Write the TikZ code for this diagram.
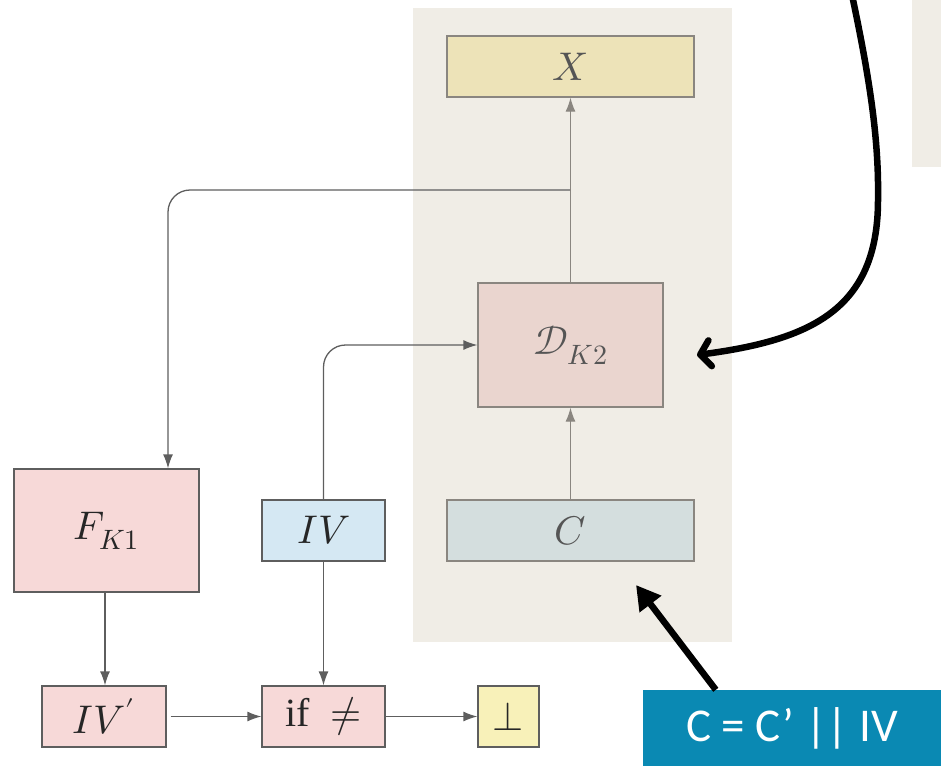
\documentclass[tikz,border=0pt]{standalone}
\usepackage{fontspec}
\usepackage{unicode-math}
\setmainfont{Liberation Serif}
\newfontfamily\carl{Carlito}
\usetikzlibrary{arrows.meta,calc}
\definecolor{panel}{HTML}{F0EDE6}
\definecolor{xfill}{HTML}{EDE3B8}
\definecolor{dfill}{HTML}{EAD5CF}
\definecolor{cfill}{HTML}{D4DEDE}
\definecolor{pinkfill}{HTML}{F7D9D8}
\definecolor{ivfill}{HTML}{D5E8F3}
\definecolor{botfill}{HTML}{F8F1B9}
\definecolor{labelblue}{HTML}{0A89B3}
\definecolor{lgray}{HTML}{8A8680}
\definecolor{dgray}{HTML}{5E5E5E}
\definecolor{gtext}{HTML}{555555}
\begin{document}
\begin{tikzpicture}[x=1pt,y=-1pt,
  box/.style={draw=dgray,line width=1.3pt,inner sep=0pt,text=black!85,font=\fontsize{40}{44}\selectfont},
  rbox/.style={draw=lgray,line width=1.3pt,inner sep=0pt,text=gtext,font=\fontsize{40}{44}\selectfont},
  conn/.style={draw=dgray,line width=1.3pt,-{Latex[length=14pt,width=10pt]}},
  rconn/.style={draw=lgray,line width=1.3pt,-{Latex[length=14pt,width=10pt]}},
  big/.style={draw=black,line width=6.5pt,-{Triangle[length=24pt,width=26pt]}},
  bigcurve/.style={draw=black,line width=6.5pt,line cap=round,-{Straight Barb[length=10pt,width=26pt,round]}}]
\useasboundingbox (0,0) rectangle (941,766);
\fill[panel] (413,8) rectangle (732,642);
\fill[panel] (912,0) rectangle (941,167);
\node[rbox,fill=xfill,minimum width=247pt,minimum height=61pt] (X) at (570.5,66.5) {$X$};
\node[rbox,fill=dfill,minimum width=185pt,minimum height=124pt] (D) at (570.5,345) {$\mathcal{D}_{K2}$};
\node[rbox,fill=cfill,minimum width=247pt,minimum height=61pt] (C) at (570.5,530.5) {$C$};
\node[box,fill=pinkfill,minimum width=185pt,minimum height=123pt] (F) at (106.5,530.5) {$F_{K1}$};
\node[box,fill=ivfill,minimum width=123pt,minimum height=61pt] (IV) at (323.5,530.5) {$IV$};
\node[box,fill=pinkfill,minimum width=124pt,minimum height=61pt] (IVp) at (104,716.5) {$IV'$};
\node[box,fill=pinkfill,minimum width=123pt,minimum height=61pt] (if) at (323.5,716.5) {if\enspace$\neq$};
\node[box,fill=botfill,minimum width=61pt,minimum height=61pt] (bot) at (508.5,716.5) {$\perp$};
\node[fill=labelblue,minimum width=298pt,minimum height=76pt,inner sep=0pt,text=white,font=\carl\fontsize{47}{50}\selectfont] (lab) at (792,728) {C = C’ || IV};
\coordinate (br) at (570,190);
\coordinate (fin) at ([xshift=61.5pt]F.north);
% connectors
\draw[rconn] (D.north) -- (X.south);
\draw[conn,rounded corners=22pt] (br) -- (br -| fin) -- (fin);
\draw[rconn] (C.north) -- (D.south);
\draw[conn,rounded corners=22pt] (IV.north) -- (IV.north |- D.west) -- (D.west);
\draw[conn] ([xshift=-1.5pt]F.south) -- ([xshift=-1.5pt]F.south |- IVp.north);
\draw[conn] (IV.south) -- (if.north);
\draw[conn] ([xshift=4pt]IVp.east) -- (if.west);
\draw[conn] (if.east) -- (bot.west);
% thick black arrows
\coordinate (cs) at (852,-5);
\coordinate (cm) at (878,200);
\coordinate (ce) at (697,355);
\draw[bigcurve] (cs) .. controls (870,80) and (879,140) .. (cm) .. controls (878,310) and (810,340) .. (ce);
\coordinate (ae) at (636,585);
\draw[big] (lab.north west) ++(73,0) coordinate (as) (as) -- (ae);
\end{tikzpicture}
\end{document}
